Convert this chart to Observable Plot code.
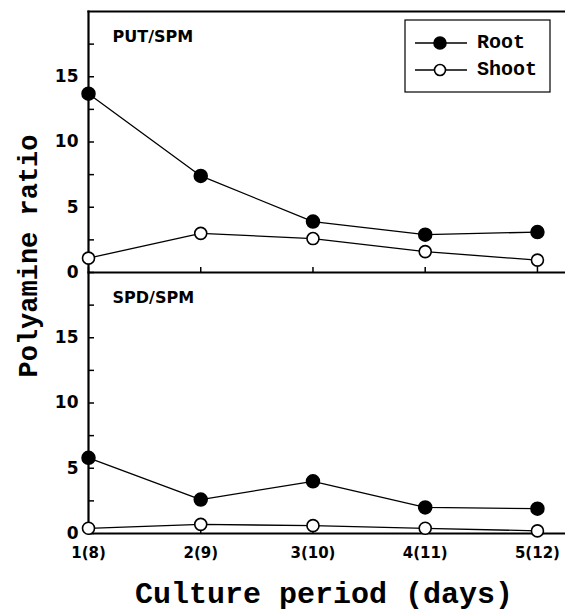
<!DOCTYPE html>
<html><head><meta charset="utf-8">
<script src="https://cdn.jsdelivr.net/npm/d3@7"></script>
<script src="https://cdn.jsdelivr.net/npm/@observablehq/plot@0.6"></script>
<style>
body{margin:0;background:#fff;}
#chart{position:relative;width:565px;height:614px;}
#chart svg{font-family:"DejaVu Sans",sans-serif;background:#fff;}
</style></head><body><div id="chart"></div>
<script>
const panels = ["PUT/SPM", "SPD/SPM"];
const days = [1, 2, 3, 4, 5];
const dayLabels = ["1(8)", "2(9)", "3(10)", "4(11)", "5(12)"];
const series = ["Root", "Shoot"];
const putRoot = [13.7, 7.4, 3.9, 2.9, 3.1];
const putShoot = [1.1, 3.0, 2.6, 1.6, 0.95];
const spdRoot = [5.8, 2.6, 4.0, 2.0, 1.9];
const spdShoot = [0.4, 0.7, 0.6, 0.4, 0.2];
const yTicks = [0, 2.5, 5, 7.5, 10, 12.5, 15, 17.5];
const yTickLabels = [0, 5, 10, 15];
const xTitle = "Culture period (days)";
const yTitle = "Polyamine ratio";

const valuesBy = {"PUT/SPM": {Root: putRoot, Shoot: putShoot}, "SPD/SPM": {Root: spdRoot, Shoot: spdShoot}};
const rows = panels.flatMap(p => series.flatMap(s => days.map((d, i) => ({panel: p, series: s, day: d, value: valuesBy[p][s][i]}))));

const chart = Plot.plot({
  width: 565, height: 614,
  marginLeft: 88, marginRight: 0, marginTop: 10, marginBottom: 81,
  x: {domain: [1, 5.25]},
  y: {domain: [0, 20]},
  fy: {domain: panels, padding: 0, axis: null},
  marks: [
    Plot.ruleY([0], {stroke: "black", strokeWidth: 2.2}),
    Plot.frame({anchor: "left", stroke: "black", strokeWidth: 2.2}),
    Plot.frame({anchor: "top", facetAnchor: "top", stroke: "black", strokeWidth: 2.2}),
    Plot.axisY({ticks: yTicks, tickSize: 6, dx: 6, fill: "none", label: null, strokeWidth: 1.5}),
    Plot.axisY({ticks: yTickLabels, tickSize: 0, tickPadding: 10, fontSize: 17, fontWeight: "bold", label: null}),
    Plot.axisX({ticks: days, tickSize: 5, dy: -5, fill: "none", label: null, facetAnchor: null, strokeWidth: 1.5}),
    Plot.axisX({ticks: days, tickFormat: d => dayLabels[days.indexOf(d)], tickSize: 0, tickPadding: 14, fontSize: 15, fontWeight: "bold", label: null}),
    Plot.text(panels, {fy: d => d, text: d => d, frameAnchor: "top-left", dx: 24, dy: 25, fontSize: 16, fontWeight: "bold", textAnchor: "start", lineAnchor: "middle"}),
    Plot.line(rows, {x: "day", y: "value", z: d => d.panel + d.series, fy: "panel", stroke: "black", strokeWidth: 1.3}),
    Plot.dot(rows.filter(d => d.series === "Root"), {x: "day", y: "value", fy: "panel", r: 6.5, fill: "black", stroke: "black"}),
    Plot.dot(rows.filter(d => d.series === "Shoot"), {x: "day", y: "value", fy: "panel", r: 6, fill: "white", stroke: "black", strokeWidth: 1.6})
  ]
});
document.getElementById("chart").appendChild(chart);

const svg = d3.select(chart);
svg.append("text")
  .attr("transform", "translate(30,256) rotate(-90)")
  .attr("text-anchor", "middle").attr("dominant-baseline", "middle")
  .style("font-family", "'Liberation Mono', monospace").style("font-weight", "bold").style("font-size", "27px")
  .text(yTitle);
svg.append("text")
  .attr("x", 324).attr("y", 603)
  .attr("text-anchor", "middle")
  .style("font-family", "'Liberation Mono', monospace").style("font-weight", "bold").style("font-size", "30px")
  .text(xTitle);

const lg = svg.append("g").attr("transform", "translate(405,20)");
lg.append("rect").attr("width", 145).attr("height", 72).attr("fill", "white").attr("stroke", "black").attr("stroke-width", 1.2);
series.forEach((s, i) => {
  const row = lg.append("g").attr("transform", `translate(0,${23 + i * 27})`);
  row.append("line").attr("x1", 10).attr("x2", 62).attr("stroke", "black").attr("stroke-width", 1.3);
  row.append("circle").attr("cx", 35).attr("r", s === "Root" ? 6 : 5.5)
    .attr("fill", s === "Root" ? "black" : "white").attr("stroke", "black").attr("stroke-width", 1.6);
  row.append("text").attr("x", 72).attr("text-anchor", "start").attr("dominant-baseline", "middle")
    .style("font-family", "'Liberation Mono', monospace").style("font-weight", "bold").style("font-size", "20px")
    .text(s);
});
</script></body></html>
